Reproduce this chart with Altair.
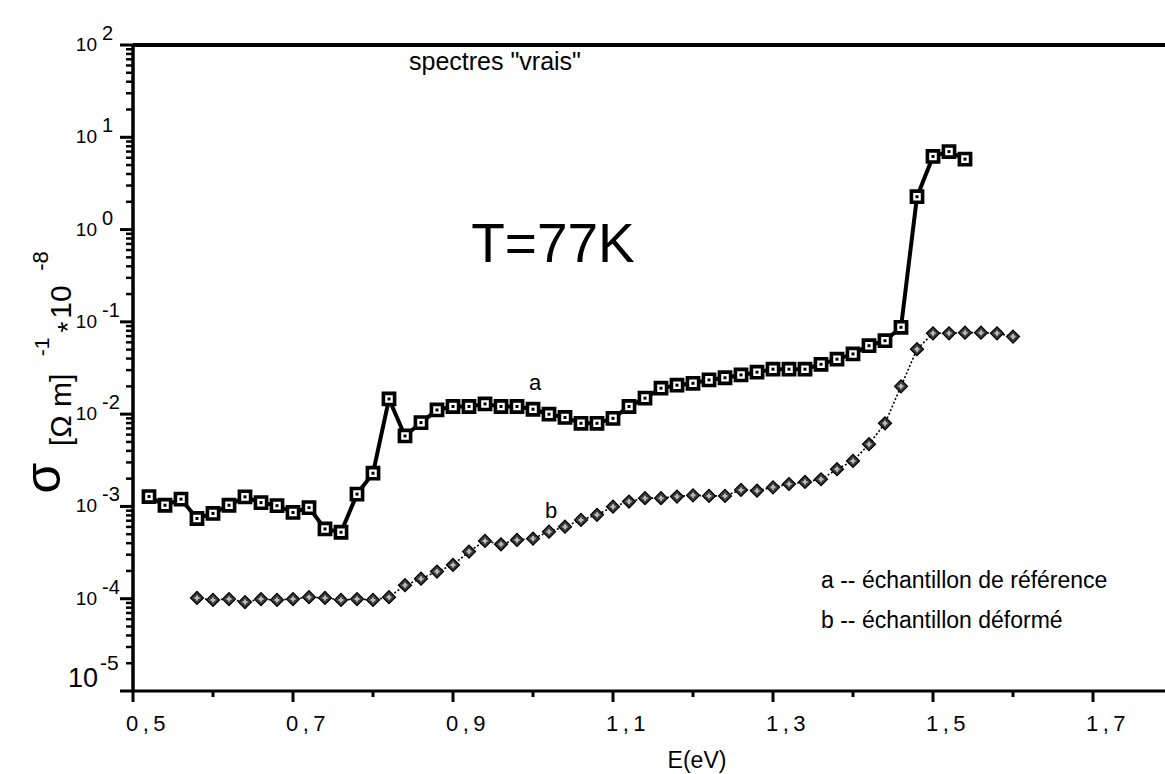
import altair as alt
import pandas as pd

# ---------------- data ----------------
a_E = [0.52, 0.54, 0.56, 0.58, 0.60, 0.62, 0.64, 0.66, 0.68, 0.70, 0.72, 0.74, 0.76,
       0.78, 0.80, 0.82, 0.84, 0.86, 0.88, 0.90, 0.92, 0.94, 0.96, 0.98, 1.00, 1.02,
       1.04, 1.06, 1.08, 1.10, 1.12, 1.14, 1.16, 1.18, 1.20, 1.22, 1.24, 1.26, 1.28,
       1.30, 1.32, 1.34, 1.36, 1.38, 1.40, 1.42, 1.44, 1.46, 1.48, 1.50, 1.52, 1.54]
a_sigma = [1.28e-3, 1.03e-3, 1.20e-3, 7.4e-4, 8.4e-4, 1.03e-3, 1.27e-3, 1.10e-3, 1.02e-3,
           8.6e-4, 9.7e-4, 5.7e-4, 5.25e-4, 1.36e-3, 2.29e-3, 1.46e-2, 5.8e-3, 8.1e-3,
           1.11e-2, 1.21e-2, 1.21e-2, 1.29e-2, 1.21e-2, 1.21e-2, 1.13e-2, 9.98e-3, 9.2e-3,
           7.96e-3, 7.96e-3, 9.0e-3, 1.21e-2, 1.49e-2, 1.91e-2, 2.06e-2, 2.16e-2, 2.35e-2,
           2.48e-2, 2.66e-2, 2.85e-2, 3.07e-2, 3.07e-2, 3.07e-2, 3.47e-2, 3.94e-2, 4.49e-2,
           5.52e-2, 6.25e-2, 8.73e-2, 2.27, 6.2, 7.0, 5.8]

b_E = [0.58, 0.60, 0.62, 0.64, 0.66, 0.68, 0.70, 0.72, 0.74, 0.76, 0.78, 0.80, 0.82,
       0.84, 0.86, 0.88, 0.90, 0.92, 0.94, 0.96, 0.98, 1.00, 1.02, 1.04, 1.06, 1.08,
       1.10, 1.12, 1.14, 1.16, 1.18, 1.20, 1.22, 1.24, 1.26, 1.28, 1.30, 1.32, 1.34,
       1.36, 1.38, 1.40, 1.42, 1.44, 1.46, 1.48, 1.50, 1.52, 1.54, 1.56, 1.58, 1.60]
b_sigma = [1.02e-4, 9.7e-5, 9.9e-5, 9.2e-5, 9.9e-5, 9.7e-5, 9.9e-5, 1.04e-4, 1.02e-4,
           9.7e-5, 9.9e-5, 9.7e-5, 1.04e-4, 1.40e-4, 1.65e-4, 1.97e-4, 2.32e-4, 3.24e-4,
           4.23e-4, 3.89e-4, 4.34e-4, 4.48e-4, 5.33e-4, 6.04e-4, 7.14e-4, 8.1e-4, 9.95e-4,
           1.13e-3, 1.23e-3, 1.23e-3, 1.28e-3, 1.32e-3, 1.30e-3, 1.30e-3, 1.51e-3, 1.48e-3,
           1.61e-3, 1.75e-3, 1.84e-3, 1.97e-3, 2.53e-3, 3.11e-3, 4.72e-3, 7.96e-3, 2.0e-2,
           5.05e-2, 7.52e-2, 7.52e-2, 7.64e-2, 7.64e-2, 7.52e-2, 6.92e-2]

x_major = [0.5, 0.7, 0.9, 1.1, 1.3, 1.5, 1.7]
x_major_labels = ["0\u2009,\u20095", "0\u2009,\u20097", "0\u2009,\u20099", "1\u2009,\u20091",
                  "1\u2009,\u20093", "1\u2009,\u20095", "1\u2009,\u20097"]
x_minor = [0.6, 0.8, 1.0, 1.2, 1.4, 1.6]

y_major = [1e2, 1e1, 1e0, 1e-1, 1e-2, 1e-3, 1e-4, 1e-5]
y_major_exp = ["2", "1", "0", "-1", "-2", "-3", "-4", "-5"]
y_minor = [m * d for d in [1e-5, 1e-4, 1e-3, 1e-2, 1e-1, 1e0, 1e1] for m in range(2, 10)]

# ---------------- layout ----------------
W, H = 1032, 646
FONT = "Liberation Sans, Arial, Helvetica, sans-serif"

xs = alt.Scale(domain=[0.5, 1.79], nice=False, zero=False)
ys = alt.Scale(type="log", domain=[1e-5, 100], nice=False)

df_a = pd.DataFrame({"E": a_E, "s": a_sigma})
df_b = pd.DataFrame({"E": b_E, "s": b_sigma})
one = pd.DataFrame({"k": [0]})

X = alt.X("E:Q", scale=xs, axis=None)
Y = alt.Y("s:Q", scale=ys, axis=None)

# frame
top_line = alt.Chart(one).mark_rule(color="black", strokeWidth=4).encode(
    x=alt.value(0), x2=alt.value(W), y=alt.value(0))
left_line = alt.Chart(one).mark_rule(color="black", strokeWidth=3.5).encode(
    x=alt.value(0), y=alt.value(0), y2=alt.value(H))
bottom_line = alt.Chart(one).mark_rule(color="black", strokeWidth=3).encode(
    x=alt.value(0), x2=alt.value(W), y=alt.value(H))

# ticks
df_xmaj = pd.DataFrame({"E": x_major, "lab": x_major_labels})
df_xmin = pd.DataFrame({"E": x_minor})
df_ymaj = pd.DataFrame({"s": y_major, "ex": y_major_exp})
df_ymin = pd.DataFrame({"s": y_minor})

xmaj_ticks = alt.Chart(df_xmaj).mark_rule(color="black", strokeWidth=3).encode(
    x=X, y=alt.value(H), y2=alt.value(H + 11))
xmin_ticks = alt.Chart(df_xmin).mark_rule(color="black", strokeWidth=3).encode(
    x=X, y=alt.value(H), y2=alt.value(H + 6))
xlabels = alt.Chart(df_xmaj).mark_text(
    font=FONT, fontSize=22, align="left", baseline="middle", dx=-7, color="black"
).encode(x=X, y=alt.value(H + 33), text="lab:N")

ymaj_ticks = alt.Chart(df_ymaj).mark_rule(color="black", strokeWidth=3).encode(
    y=Y, x=alt.value(-13), x2=alt.value(0))
ymin_ticks = alt.Chart(df_ymin).mark_rule(color="black", strokeWidth=2.5).encode(
    y=Y, x=alt.value(-7), x2=alt.value(0))

df_ylab = df_ymaj[df_ymaj["s"] > 5e-5]
df_ylab_last = df_ymaj[df_ymaj["s"] < 5e-5]
ylab_ten = alt.Chart(df_ylab).mark_text(
    font=FONT, fontSize=19, align="right", baseline="middle", color="black", text="10"
).encode(y=Y, x=alt.value(-36))
ylab_exp = alt.Chart(df_ylab).mark_text(
    font=FONT, fontSize=20, align="left", baseline="middle", dy=-11, color="black"
).encode(y=Y, x=alt.value(-31), text="ex:N")
ylab_ten_last = alt.Chart(df_ylab_last).mark_text(
    font=FONT, fontSize=27, align="right", baseline="middle", dy=-12, color="black", text="10"
).encode(y=Y, x=alt.value(-35))
ylab_exp_last = alt.Chart(df_ylab_last).mark_text(
    font=FONT, fontSize=21, align="left", baseline="middle", dy=-27, color="black"
).encode(y=Y, x=alt.value(-33), text="ex:N")

# curve a
line_a = alt.Chart(df_a).mark_line(color="black", strokeWidth=4).encode(x=X, y=Y)
pts_a = alt.Chart(df_a).mark_point(
    shape="square", filled=True, fill="white", stroke="black", strokeWidth=3.6,
    size=125, opacity=1
).encode(x=X, y=Y)
dot_a = alt.Chart(df_a).mark_point(
    shape="square", filled=True, color="black", size=9, opacity=1
).encode(x=X, y=Y)

# curve b
line_b = alt.Chart(df_b).mark_line(color="black", strokeWidth=1.6, strokeDash=[2, 2]).encode(x=X, y=Y)
pts_b = alt.Chart(df_b).mark_point(
    shape="diamond", filled=True, fill="#3a3a3a", stroke="black", strokeWidth=1.2,
    size=170, opacity=1
).encode(x=X, y=Y)
pts_b_tex = alt.Chart(df_b).mark_point(
    shape="cross", filled=True, fill="#bbbbbb", size=25, opacity=1
).encode(x=X, y=Y)


def txt(s, x, y, size, align="center", angle=None, baseline="middle"):
    kw = dict(font=FONT, fontSize=size, align=align, baseline=baseline, color="black", text=s)
    if angle is not None:
        kw["angle"] = angle
    return alt.Chart(one).mark_text(**kw).encode(x=alt.value(x), y=alt.value(y))


annotations = [
    txt('spectres "vrais"', 362, 17, 25),
    txt("T=77K", 420, 200, 55),
    txt("a", 402, 338, 22),
    txt("b", 418, 466, 22),
    txt("a -- échantillon de référence", 688, 536, 23, align="left"),
    txt("b -- échantillon déformé", 688, 576, 23, align="left"),
    txt("E(eV)", 564, 716, 23),
    # y-axis title pieces (rotated)
    txt("σ", -88, 433, 50, angle=270),
    txt("[Ω m]", -71, 365, 30, angle=270),
    txt("-1", -90, 302, 21, angle=270),
    txt("*", -64, 282, 28, angle=270),
    txt("10", -71, 257, 30, angle=270),
    txt("-8", -92, 216, 22, angle=270),
]

chart = alt.layer(
    top_line, left_line, bottom_line,
    xmaj_ticks, xmin_ticks, xlabels,
    ymaj_ticks, ymin_ticks, ylab_ten, ylab_exp, ylab_ten_last, ylab_exp_last,
    line_b, pts_b, pts_b_tex, line_a, pts_a, dot_a,
    *annotations,
).properties(
    width=W, height=H,
    padding={"left": 133, "top": 45, "right": 0, "bottom": 83},
    autosize=alt.AutoSizeParams(type="none"),
).configure_view(stroke=None).configure(background="white")

chart.save("out.html", embed_options={"renderer": "svg", "actions": False})
